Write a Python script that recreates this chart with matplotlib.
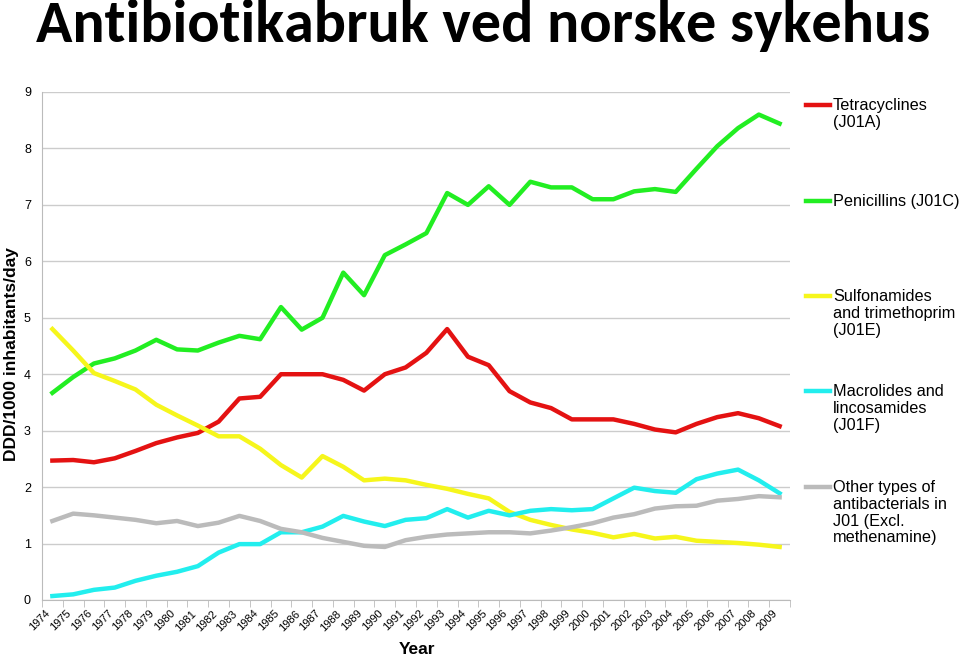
import matplotlib
matplotlib.use('Agg')
import matplotlib.pyplot as plt
from matplotlib.lines import Line2D

years = list(range(1974, 2010))

tetracyclines = [2.47, 2.48, 2.44, 2.51, 2.64, 2.78, 2.88, 2.96, 3.16, 3.57, 3.60, 4.00,
                 4.00, 4.00, 3.90, 3.71, 4.00, 4.12, 4.38, 4.80, 4.31, 4.16, 3.70, 3.50,
                 3.40, 3.20, 3.20, 3.20, 3.12, 3.02, 2.97, 3.12, 3.24, 3.31, 3.22, 3.08]
penicillins = [3.67, 3.95, 4.19, 4.28, 4.42, 4.61, 4.44, 4.42, 4.56, 4.68, 4.62, 5.19,
               4.79, 5.00, 5.80, 5.40, 6.11, 6.30, 6.50, 7.21, 7.00, 7.33, 7.00, 7.41,
               7.31, 7.31, 7.10, 7.10, 7.24, 7.28, 7.23, 7.64, 8.04, 8.36, 8.60, 8.44]
sulfonamides = [4.80, 4.42, 4.02, 3.88, 3.73, 3.46, 3.27, 3.09, 2.90, 2.90, 2.68, 2.39,
                2.17, 2.55, 2.36, 2.12, 2.15, 2.12, 2.04, 1.97, 1.88, 1.80, 1.56, 1.42,
                1.33, 1.25, 1.19, 1.11, 1.17, 1.09, 1.12, 1.05, 1.03, 1.01, 0.98, 0.94]
macrolides = [0.07, 0.10, 0.18, 0.22, 0.34, 0.43, 0.50, 0.60, 0.84, 0.99, 0.99, 1.20,
              1.20, 1.30, 1.49, 1.39, 1.31, 1.42, 1.45, 1.61, 1.46, 1.58, 1.50, 1.58,
              1.61, 1.59, 1.61, 1.80, 1.99, 1.93, 1.90, 2.14, 2.24, 2.31, 2.12, 1.89]
other = [1.40, 1.53, 1.50, 1.46, 1.42, 1.36, 1.40, 1.31, 1.37, 1.49, 1.40, 1.26,
         1.20, 1.10, 1.03, 0.96, 0.94, 1.06, 1.12, 1.16, 1.18, 1.20, 1.20, 1.18,
         1.23, 1.29, 1.36, 1.46, 1.52, 1.62, 1.66, 1.67, 1.76, 1.79, 1.84, 1.82]

series = [
    (tetracyclines, '#e41212', 'Tetracyclines\n(J01A)'),
    (penicillins, '#22ee22', 'Penicillins (J01C)'),
    (sulfonamides, '#f6f61c', 'Sulfonamides\nand trimethoprim\n(J01E)'),
    (macrolides, '#22eeee', 'Macrolides and\nlincosamides\n(J01F)'),
    (other, '#bbbbbb', 'Other types of\nantibacterials in\nJ01 (Excl.\nmethenamine)'),
]
# legend anchor y (pixels from top) of each entry's first line
legend_y = [105, 201, 296, 391, 487]

W, H = 960, 658
fig = plt.figure(figsize=(W / 100, H / 100), dpi=100)
ax = fig.add_axes([42 / W, 1 - 600 / H, (790 - 42) / W, (600 - 92) / H])

x = list(range(len(years)))
for vals, col, lab in series:
    ax.plot(x, vals, color=col, linewidth=3.2)

ax.set_xlim(-0.5, len(years) - 0.5)
ax.set_ylim(0, 9)
ax.set_yticks(range(10))
ax.set_yticklabels([str(i) for i in range(10)], fontsize=9, family='Liberation Sans')
ax.grid(axis='y', color='#cccccc', linewidth=1)
ax.set_axisbelow(True)
for s in ['top', 'right']:
    ax.spines[s].set_visible(False)
for s in ['left', 'bottom']:
    ax.spines[s].set_color('#bbbbbb')
ax.tick_params(axis='y', length=0, pad=8)

ax.set_xticks(x)
ax.set_xticklabels([str(y) for y in years], rotation=45, ha='right', va='top',
                   fontsize=8, family='Liberation Sans')
ax.tick_params(axis='x', which='major', length=0, pad=6)
ax.set_xticks([i - 0.5 for i in range(len(years) + 1)], minor=True)
ax.tick_params(axis='x', which='minor', length=5, color='#bbbbbb')

ax.set_ylabel('DDD/1000 inhabitants/day', fontsize=12.5, fontweight='bold',
              family='Liberation Sans')
ax.yaxis.set_label_coords(-23 / 748, (600 - 354) / 508)
ax.set_xlabel('Year', fontsize=12.5, fontweight='bold', family='Liberation Sans')
ax.xaxis.set_label_coords((417 - 42) / 748, -42 / 508)

fig.text(483 / W, 1 - 25 / H, 'Antibiotikabruk ved norske sykehus', ha='center', va='center',
         fontsize=43.3, fontweight='bold', family=['Carlito', 'Liberation Sans'])

for (vals, col, lab), ly in zip(series, legend_y):
    fig.add_artist(Line2D([806 / W, 830 / W], [1 - ly / H, 1 - ly / H],
                          color=col, linewidth=3.2, transform=fig.transFigure))
    fig.text(833 / W, 1 - (ly - 7) / H, lab, ha='left', va='top', fontsize=11.7,
             family='Liberation Sans', linespacing=1.15)

fig.savefig('out.png', dpi=100)
